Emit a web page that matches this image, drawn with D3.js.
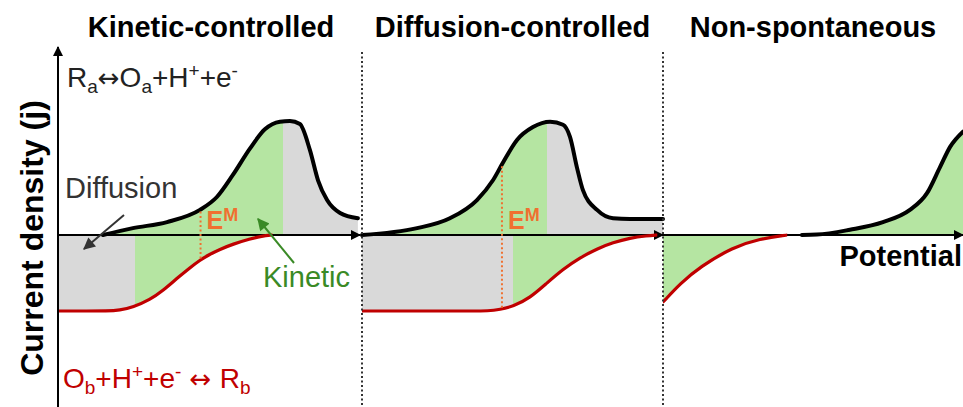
<!DOCTYPE html>
<html>
<head>
<meta charset="utf-8">
<script src="https://cdn.jsdelivr.net/npm/d3@7"></script>
<style>
  body { margin: 0; background: #fff; }
  svg { display: block; font-family: "Liberation Sans", Arial, sans-serif; }
</style>
</head>
<body>
<div id="chart"></div>
<script>
// Panel titles
const panelTitles = ["Kinetic-controlled", "Diffusion-controlled", "Non-spontaneous"];

// Anodic (black) curves per panel: [potential 0-100, current in units of the cathodic limit]
const anodic1 = [[14.9, 0], [24.8, 0.09], [36.1, 0.17], [47.0, 0.33], [52.6, 0.50], [57.9, 0.79],
  [63.6, 1.14], [68.5, 1.39], [73.5, 1.49], [76.8, 1.50], [80.1, 1.46], [83.4, 1.12], [86.1, 0.72],
  [89.1, 0.46], [93.4, 0.29], [99.3, 0.22]];
const anodic2 = [[0, 0], [18.3, 0.09], [29.2, 0.22], [38.2, 0.46], [43.5, 0.72], [46.8, 0.95],
  [51.5, 1.25], [56.8, 1.42], [62.5, 1.49], [66.8, 1.45], [69.1, 1.29], [71.4, 0.89], [73.4, 0.59],
  [78.1, 0.33], [83.4, 0.22], [89.0, 0.21], [100, 0.21]];
const anodic3 = [[46.3, 0], [51.3, 0.005], [62.3, 0.07], [73.3, 0.17], [82.3, 0.33], [88.0, 0.55],
  [92.3, 0.89], [95.7, 1.16], [100, 1.36]];

// Cathodic (red) curves per panel
const cathodic1 = [[0, -1], [10, -1], [16, -1], [20.5, -0.99], [24.8, -0.95], [30.5, -0.85],
  [34.8, -0.73], [39.4, -0.57], [43.7, -0.43], [47.0, -0.33], [50.0, -0.26], [53.5, -0.19],
  [57.9, -0.12], [63.6, -0.05], [67.5, -0.015], [70.9, 0], [71, 0]];
const cathodic2 = [[0, -1], [36, -1], [42, -1], [45.8, -0.98], [50.2, -0.94], [55.8, -0.83],
  [61.5, -0.63], [66.8, -0.45], [72.4, -0.30], [78.1, -0.18], [83.4, -0.10], [89.0, -0.04],
  [94.7, -0.01], [98, 0], [98.1, 0]];
const cathodic3 = [[0, -0.88], [0.1, -0.88], [5.7, -0.64], [12.3, -0.42], [23.3, -0.16],
  [32.3, -0.05], [41.3, 0], [41.4, 0]];

// Potential where shading switches between kinetic (green) and diffusion (gray)
const anodicSplit = [74.5, 61.5, 100];
const cathodicSplit = [25.5, 50.2, 0];
// Mixed potential E^M (none in the last panel)
const emPotential = [47.2, 46.5, null];

const anodicCurves = [anodic1, anodic2, anodic3];
const cathodicCurves = [cathodic1, cathodic2, cathodic3];

const width = 963, height = 407;
const panelRanges = [[58, 360], [362, 663], [663, 963]];
const green = "#b5e5a2", gray = "#d9d9d9", red = "#c00000", orange = "#f07030";

const svg = d3.select("#chart").append("svg")
  .attr("width", width)
  .attr("height", height);

const defs = svg.append("defs");
function marker(id, color, w, h) {
  defs.append("marker")
    .attr("id", id)
    .attr("markerUnits", "userSpaceOnUse")
    .attr("viewBox", "0 0 10 10")
    .attr("markerWidth", w)
    .attr("markerHeight", h)
    .attr("refX", 9)
    .attr("refY", 5)
    .attr("orient", "auto")
    .append("path")
    .attr("d", "M0,0L10,5L0,10Z")
    .attr("fill", color);
}
marker("arrowAxis", "#000", 12, 10);
marker("arrowGray", "#333", 13, 12);
marker("arrowGreen", "#3a8a26", 13, 12);

// Shared current scale: axis at y=235, cathodic limit at y=311
const y = d3.scaleLinear().domain([-1, 0]).range([311, 235]);

// Find the pixel y of a monotone-x path at a given pixel x
function yAtX(node, px) {
  let lo = 0, hi = node.getTotalLength();
  for (let i = 0; i < 40; i++) {
    const mid = (lo + hi) / 2;
    if (node.getPointAtLength(mid).x < px) lo = mid; else hi = mid;
  }
  return node.getPointAtLength(lo).y;
}

panelRanges.forEach((range, i) => {
  const x = d3.scaleLinear().domain([0, 100]).range(range);
  const g = svg.append("g");

  const areaOf = curve => d3.area()
    .x(d => x(d[0]))
    .y0(y(0))
    .y1(d => y(d[1]))
    .curve(curve);
  const lineOf = curve => d3.line()
    .x(d => x(d[0]))
    .y(d => y(d[1]))
    .curve(curve);
  const aArea = areaOf(d3.curveMonotoneX), aLine = lineOf(d3.curveMonotoneX);
  const cArea = areaOf(d3.curveBasis), cLine = lineOf(d3.curveBasis);

  // Clip rectangles for the kinetic / diffusion parts
  function clip(id, a, b) {
    defs.append("clipPath").attr("id", id)
      .append("rect")
      .attr("x", x(a)).attr("y", 0)
      .attr("width", Math.max(0, x(b) - x(a))).attr("height", height);
    return `url(#${id})`;
  }

  g.append("path").datum(anodicCurves[i]).attr("d", aArea)
    .attr("fill", green).attr("clip-path", clip(`aK${i}`, 0, anodicSplit[i]));
  g.append("path").datum(anodicCurves[i]).attr("d", aArea)
    .attr("fill", gray).attr("clip-path", clip(`aD${i}`, anodicSplit[i], 100));
  g.append("path").datum(cathodicCurves[i]).attr("d", cArea)
    .attr("fill", gray).attr("clip-path", clip(`cD${i}`, 0, cathodicSplit[i]));
  g.append("path").datum(cathodicCurves[i]).attr("d", cArea)
    .attr("fill", green).attr("clip-path", clip(`cK${i}`, cathodicSplit[i], 100));

  // Potential axis
  g.append("line")
    .attr("x1", x(0)).attr("x2", x(100))
    .attr("y1", y(0)).attr("y2", y(0))
    .attr("stroke", "#000").attr("stroke-width", 2)
    .attr("marker-end", "url(#arrowAxis)");

  const redPath = g.append("path").datum(cathodicCurves[i]).attr("d", cLine)
    .attr("fill", "none").attr("stroke", red).attr("stroke-width", 3.2);
  const blackPath = g.append("path").datum(anodicCurves[i]).attr("d", aLine)
    .attr("fill", "none").attr("stroke", "#000").attr("stroke-width", 4)
    .attr("stroke-linecap", "round");

  // Mixed potential marker
  if (emPotential[i] !== null) {
    const ex = x(emPotential[i]);
    g.append("line")
      .attr("x1", ex).attr("x2", ex)
      .attr("y1", yAtX(blackPath.node(), ex) + 2)
      .attr("y2", yAtX(redPath.node(), ex))
      .attr("stroke", orange).attr("stroke-width", 2)
      .attr("stroke-dasharray", "2,2.5");
    const t = g.append("text")
      .attr("x", ex + 6).attr("y", 229)
      .attr("fill", orange).attr("font-weight", "bold")
      .attr("font-size", 25);
    t.append("tspan").text("E");
    t.append("tspan").attr("font-size", 18).attr("dy", -8).text("M");
  }

  // Title
  svg.append("text")
    .attr("x", (range[0] + range[1]) / 2 + (i === 0 ? 2 : 0)).attr("y", 37)
    .attr("text-anchor", "middle")
    .attr("font-weight", "bold").attr("font-size", 29)
    .text(panelTitles[i]);
});

// Dotted panel separators
[362, 663].forEach(px => {
  svg.append("line")
    .attr("x1", px).attr("x2", px).attr("y1", 52).attr("y2", height)
    .attr("stroke", "#333").attr("stroke-width", 2)
    .attr("stroke-dasharray", "2,2.5");
});

// Current axis
svg.append("line")
  .attr("x1", 58).attr("x2", 58).attr("y1", height).attr("y2", 47)
  .attr("stroke", "#000").attr("stroke-width", 2)
  .attr("marker-end", "url(#arrowAxis)");

svg.append("text")
  .attr("transform", "translate(43,238) rotate(-90)")
  .attr("text-anchor", "middle")
  .attr("font-weight", "bold").attr("font-size", 32)
  .text("Current density (j)");

svg.append("text")
  .attr("x", 962).attr("y", 266)
  .attr("text-anchor", "end")
  .attr("font-weight", "bold").attr("font-size", 29)
  .text("Potential");

// Reaction labels with sub/superscripts; the double arrow uses DejaVu for a wider glyph
function reaction(xp, yp, color, parts) {
  const t = svg.append("text").attr("x", xp).attr("y", yp)
    .attr("fill", color).attr("font-size", 28);
  let shift = 0;
  parts.forEach(([s, kind]) => {
    const target = kind === "sub" ? 6 : kind === "sup" ? -10 : 0;
    const sp = t.append("tspan").attr("dy", target - shift).text(s);
    if (kind === "sub" || kind === "sup") sp.attr("font-size", 19);
    if (kind === "arrow") sp.attr("font-family", "DejaVu Sans").attr("font-size", 26);
    shift = target;
  });
}
reaction(67, 87, "#222", [["R"], ["a", "sub"], ["\u2194", "arrow"], ["O"], ["a", "sub"],
  ["+H"], ["+", "sup"], ["+e"], ["-", "sup"]]);
reaction(63, 388, red, [["O"], ["b", "sub"], ["+H"], ["+", "sup"], ["+e"], ["-", "sup"],
  [" \u2194 ", "arrow"], ["R"], ["b", "sub"]]);

// Annotations
svg.append("text").attr("x", 65).attr("y", 198)
  .attr("fill", "#333").attr("font-size", 29).text("Diffusion");
svg.append("line")
  .attr("x1", 124).attr("y1", 215).attr("x2", 84).attr("y2", 249)
  .attr("stroke", "#333").attr("stroke-width", 2)
  .attr("marker-end", "url(#arrowGray)");

svg.append("text").attr("x", 263).attr("y", 287)
  .attr("fill", "#3a8a26").attr("font-size", 29).text("Kinetic");
svg.append("line")
  .attr("x1", 294).attr("y1", 263).attr("x2", 258).attr("y2", 219)
  .attr("stroke", "#3a8a26").attr("stroke-width", 2)
  .attr("marker-end", "url(#arrowGreen)");
</script>
</body>
</html>
